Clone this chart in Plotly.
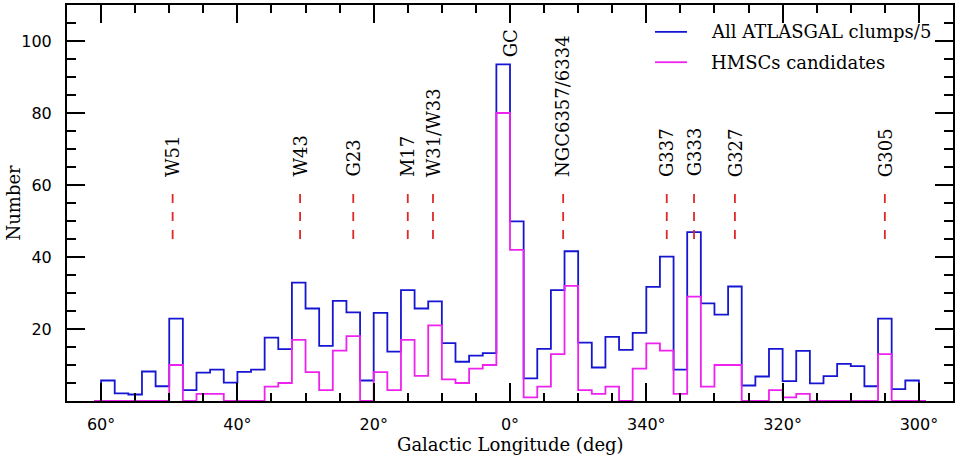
import plotly.graph_objects as go

# ---------------- data ----------------
# 2-degree bins from l=60 deg down to l=-60 deg (i.e. 300 deg); bin centres
bin_centers = [59 - 2 * i for i in range(60)]

all_clumps_div5 = [
    5.7, 2.1, 1.8, 8.2, 4.1, 22.9, 3.0, 7.9, 8.7, 5.1,
    8.1, 8.7, 17.6, 14.4, 32.9, 25.7, 15.3, 27.8, 24.6, 5.7,
    24.5, 13.7, 30.8, 25.7, 27.7, 16.1, 10.9, 12.6, 13.3, 93.5,
    49.9, 6.3, 14.5, 30.8, 41.6, 16.2, 9.3, 17.8, 14.2, 18.9,
    31.7, 40.1, 8.7, 46.9, 27.1, 24.0, 31.8, 4.3, 6.8, 14.5,
    5.5, 13.9, 4.9, 6.9, 10.3, 9.7, 4.1, 22.9, 3.3, 5.7,
]
hmsc_candidates = [
    0, 0, 0, 0, 0, 10, 0, 2, 2, 0,
    0, 0, 4, 5, 17, 8, 3, 14, 18, 0,
    8, 3, 17, 7, 21, 6, 5, 9, 10, 80,
    42, 1, 4, 13, 32, 3, 2, 4, 0, 9,
    16, 14, 2, 29, 4, 10, 10, 0, 0, 3,
    1, 2, 0, 0, 0, 0, 0, 13, 0, 0,
]

region_names = ["W51", "W43", "G23", "M17", "W31/W33", "NGC6357/6334",
                "G337", "G333", "G327", "G305"]
region_lons = [49.5, 30.8, 23.0, 15.0, 11.3, -7.8, -23.0, -27.0, -33.0, -55.0]
gc_name = "GC"
gc_lon = 0.0

x_tickvals = [60, 40, 20, 0, -20, -40, -60]
x_ticktext = ["60°", "40°", "20°", "0°", "340°", "320°", "300°"]
y_tickvals = [20, 40, 60, 80, 100]

series_names = ["All ATLASGAL clumps/5", "HMSCs candidates"]

# ---------------- style ----------------
BLUE = "#1616d2"
MAGENTA = "#ee22ee"
RED = "#e02828"
SERIF = "DejaVu Serif"
SANS = "DejaVu Sans"

# step curves (mid-step with zero half-bins at both ends)
xs = [bin_centers[0] + 2] + bin_centers + [bin_centers[-1] - 2]

fig = go.Figure()
for vals, col, name in [(all_clumps_div5, BLUE, series_names[0]),
                        (hmsc_candidates, MAGENTA, series_names[1])]:
    fig.add_trace(go.Scatter(
        x=xs, y=[0] + vals + [0], mode="lines", name=name,
        line=dict(color=col, width=1.8, shape="hvh"),
        showlegend=False, hoverinfo="skip"))

# dashed red markers + labels
for name, lon in zip(region_names, region_lons):
    fig.add_shape(type="line", xref="x", yref="y", x0=lon, x1=lon, y0=45, y1=57.7,
                  line=dict(color=RED, width=1.8, dash="9px,9px"))
    fig.add_annotation(x=lon, y=62.0, xref="x", yref="y", text=name, textangle=-90,
                       showarrow=False, xanchor="center", yanchor="bottom",
                       font=dict(family=SERIF, size=18, color="black"), borderpad=0)
fig.add_annotation(x=gc_lon, y=95.2, xref="x", yref="y", text=gc_name, textangle=-90,
                   showarrow=False, xanchor="center", yanchor="bottom",
                   font=dict(family=SERIF, size=18, color="black"), borderpad=0)

# plot-area geometry (pixels)
L, R, T, B = 67, 953, 3, 401
W, H = 960, 456
pw, ph = R - L, B - T

def px_x(px):
    return (px - L) / pw

def px_y(py):
    return (B - py) / ph

# manual legend
for i, (col, name) in enumerate([(BLUE, series_names[0]), (MAGENTA, series_names[1])]):
    yy = px_y(30 + 30.5 * i)
    fig.add_shape(type="line", xref="paper", yref="paper", x0=px_x(655), x1=px_x(687),
                  y0=yy, y1=yy, line=dict(color=col, width=1.8))
    fig.add_annotation(x=px_x(709), y=yy, xref="paper", yref="paper", text=name,
                       showarrow=False, xanchor="left", yanchor="middle",
                       font=dict(family=SERIF, size=18, color="black"))

# axis titles (kept just inside the canvas)
fig.add_annotation(x=px_x(510), y=px_y(433), xref="paper", yref="paper",
                   text="Galactic Longitude (deg)", showarrow=False,
                   xanchor="center", yanchor="top", borderpad=0,
                   font=dict(family=SERIF, size=18, color="black"))
fig.add_annotation(x=px_x(1), y=px_y(202), xref="paper", yref="paper",
                   text="Number", showarrow=False, textangle=-90,
                   xanchor="left", yanchor="middle", borderpad=0,
                   font=dict(family=SERIF, size=18, color="black"))

axis_common = dict(showline=True, linecolor="black", linewidth=2, mirror="allticks",
                   ticks="inside", tickcolor="black", tickwidth=1.5, ticklen=18,
                   showgrid=False, zeroline=False,
                   tickfont=dict(family=SANS, size=16, color="black"))

fig.update_xaxes(range=[65, -65], tickmode="array", tickvals=x_tickvals,
                 ticktext=x_ticktext, ticklabelstandoff=8,
                 minor=dict(dtick=5, tick0=0, ticks="inside", ticklen=8,
                            tickcolor="black", tickwidth=1.5, showgrid=False),
                 **axis_common)
fig.update_yaxes(range=[0, 110], tickmode="array", tickvals=y_tickvals,
                 ticklabelstandoff=10,
                 minor=dict(dtick=5, tick0=0, ticks="inside", ticklen=9,
                            tickcolor="black", tickwidth=1.5, showgrid=False),
                 **axis_common)

fig.update_layout(width=W, height=H, margin=dict(l=L, r=W - R, t=T, b=H - B),
                  paper_bgcolor="white", plot_bgcolor="white", showlegend=False)

fig.write_html("out.html")
